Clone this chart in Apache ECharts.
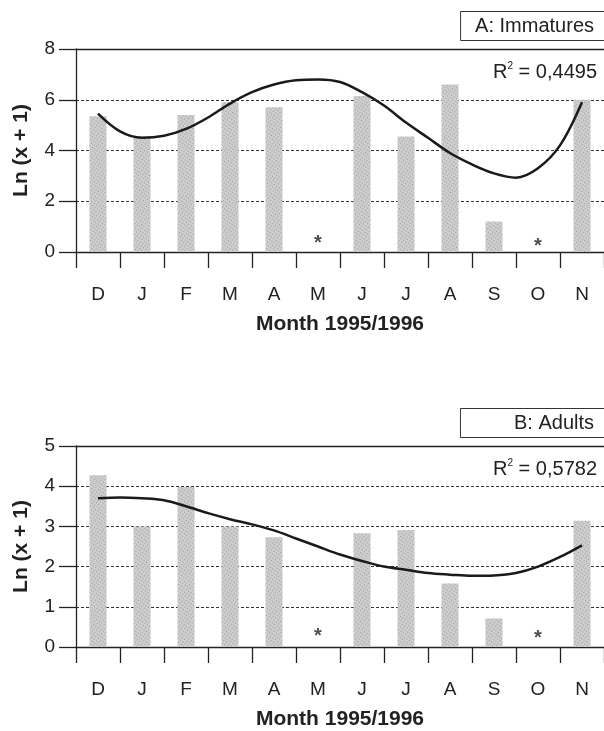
<!DOCTYPE html>
<html>
<head>
<meta charset="utf-8">
<script src="https://cdn.jsdelivr.net/npm/echarts@6/dist/echarts.min.js"></script>
<style>
  html, body { margin: 0; padding: 0; background: #fff; }
  #chart { width: 604px; height: 731px; }
</style>
</head>
<body>
<div id="chart"></div>
<script>
const months = ['D', 'J', 'F', 'M', 'A', 'M', 'J', 'J', 'A', 'S', 'O', 'N']

// Ln(x+1) per month, null where no sample (marked with *)
const immatures = [5.35, 4.55, 5.4, 5.9, 5.7, null, 6.15, 4.55, 6.6, 1.2, null, 6.0]
const adults = [4.27, 3.0, 3.98, 3.0, 2.73, null, 2.83, 2.91, 1.58, 0.71, null, 3.14]

const immaturesStars = [[5, 0.55], [10, 0.43]]
const adultsStars = [[5, 0.39], [10, 0.34]]

// polynomial trend, [month index, value]
const immaturesTrend = [
  [0, 5.45], [0.5, 4.75], [1, 4.5], [1.5, 4.58], [2, 4.85], [2.5, 5.3],
  [3, 5.85], [3.5, 6.3], [4, 6.6], [4.5, 6.77], [5, 6.8], [5.5, 6.7],
  [6, 6.3], [6.5, 5.77], [7, 5.1], [7.5, 4.5], [8, 3.9], [8.5, 3.45],
  [9, 3.1], [9.5, 2.93], [10, 3.3], [10.5, 4.2], [11, 5.9]
]
const adultsTrend = [
  [0, 3.7], [0.5, 3.72], [1, 3.7], [1.5, 3.65], [2, 3.5], [2.5, 3.33],
  [3, 3.18], [3.5, 3.05], [4, 2.9], [4.5, 2.7], [5, 2.5], [5.5, 2.3],
  [6, 2.14], [6.5, 2.0], [7, 1.92], [7.5, 1.84], [8, 1.8], [8.5, 1.77],
  [9, 1.78], [9.5, 1.84], [10, 2.0], [10.5, 2.24], [11, 2.53]
]

const yTicksA = { max: 8, interval: 2 }
const yTicksB = { max: 5, interval: 1 }
const r2A = '0,4495'
const r2B = '0,5782'

const FONT = "'Liberation Sans', Arial, sans-serif"
const INK = '#222'

function boxTitle(text, top, padLeft) {
  return {
    text,
    right: -12,
    top,
    padding: [5, 22, 4, padLeft],
    borderWidth: 1,
    borderColor: '#333',
    textStyle: { fontFamily: FONT, fontSize: 20, fontWeight: 'normal', color: INK, lineHeight: 21 }
  }
}

function r2Title(value, top) {
  return {
    text: '{r|R}{s|2}{r| = ' + value + '}',
    right: 7,
    top,
    padding: 0,
    textStyle: {
      fontWeight: 'normal',
      rich: {
        r: { fontFamily: FONT, fontSize: 20, fontWeight: 'normal', color: INK, lineHeight: 22 },
        s: { fontFamily: FONT, fontSize: 10, fontWeight: 'normal', color: INK, lineHeight: 22, verticalAlign: 'top' }
      }
    }
  }
}

function categoryAxis(gridIndex) {
  return {
    type: 'category',
    gridIndex,
    data: months,
    boundaryGap: true,
    name: 'Month 1995/1996',
    nameLocation: 'middle',
    nameGap: 62,
    nameTextStyle: { fontFamily: FONT, fontSize: 21, fontWeight: 'bold', color: INK },
    axisLine: { lineStyle: { color: INK, width: 1.3 } },
    axisTick: { show: true, length: 16, lineStyle: { color: INK, width: 1.3 } },
    axisLabel: { fontFamily: FONT, fontSize: 19, color: INK, margin: 33 },
    splitLine: { show: false }
  }
}

function trendAxis(gridIndex) {
  return {
    type: 'value',
    gridIndex,
    position: 'top',
    min: -0.5,
    max: 11.5,
    axisLine: { show: true, onZero: false, lineStyle: { color: INK, width: 1.3 } },
    axisTick: { show: false },
    axisLabel: { show: false },
    splitLine: { show: false }
  }
}

function valueAxis(gridIndex, ticks) {
  return {
    type: 'value',
    gridIndex,
    min: 0,
    max: ticks.max,
    interval: ticks.interval,
    name: 'Ln (x + 1)',
    nameLocation: 'middle',
    nameGap: 44,
    nameTextStyle: { fontFamily: FONT, fontSize: 21, fontWeight: 'bold', color: INK },
    axisLine: { show: true, onZero: false, lineStyle: { color: INK, width: 1.3 } },
    axisTick: { show: true, length: 17, lineStyle: { color: INK, width: 1.3 } },
    axisLabel: { fontFamily: FONT, fontSize: 19, color: INK, margin: 21 },
    splitLine: { show: true, lineStyle: { color: '#333', width: 1, type: [3, 2] } }
  }
}

const barStyle = {
  color: '#cdcdcd',
  decal: {
    symbol: 'rect',
    symbolSize: 1,
    color: 'rgba(110,110,110,0.55)',
    dashArrayX: [1, 2],
    dashArrayY: [1, 2],
    rotation: 0.6
  }
}

function barSeries(axisIndex, data) {
  return {
    type: 'bar',
    xAxisIndex: axisIndex,
    yAxisIndex: axisIndex,
    data,
    barWidth: 17,
    itemStyle: barStyle,
    silent: true
  }
}

function starSeries(axisIndex, data) {
  return {
    type: 'scatter',
    xAxisIndex: axisIndex,
    yAxisIndex: axisIndex,
    data,
    symbolSize: 1,
    itemStyle: { color: 'rgba(0,0,0,0)' },
    label: {
      show: true,
      position: 'inside',
      formatter: '*',
      fontFamily: FONT,
      fontSize: 20,
      fontWeight: 'bold',
      color: INK,
      offset: [0, 5]
    },
    silent: true
  }
}

function trendSeries(xIndex, yIndex, data) {
  return {
    type: 'line',
    xAxisIndex: xIndex,
    yAxisIndex: yIndex,
    data,
    smooth: 0.35,
    showSymbol: false,
    lineStyle: { color: '#1a1a1a', width: 2.5 },
    silent: true
  }
}

const chart = echarts.init(document.getElementById('chart'), null, { renderer: 'canvas' })

chart.setOption({
  animation: false,
  backgroundColor: '#fff',
  title: [
    boxTitle('A: Immatures', 11, 15),
    boxTitle('B: Adults', 408, 54),
    r2Title(r2A, 61),
    r2Title(r2B, 458)
  ],
  grid: [
    { left: 76, right: -5, top: 49, height: 203 },
    { left: 76, right: -5, top: 446, height: 205 }
  ],
  xAxis: [categoryAxis(0), categoryAxis(1), trendAxis(0), trendAxis(1)],
  yAxis: [valueAxis(0, yTicksA), valueAxis(1, yTicksB)],
  series: [
    barSeries(0, immatures),
    barSeries(1, adults),
    starSeries(0, immaturesStars),
    starSeries(1, adultsStars),
    trendSeries(2, 0, immaturesTrend),
    trendSeries(3, 1, adultsTrend)
  ]
})

window.addEventListener('resize', () => chart.resize())
</script>
</body>
</html>
